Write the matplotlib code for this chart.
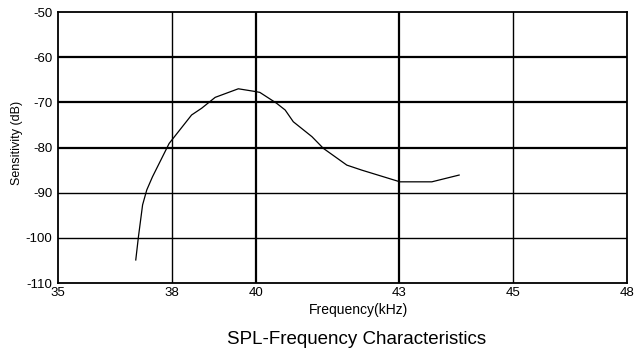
import numpy as np
import matplotlib
matplotlib.use("Agg")
import matplotlib.pyplot as plt

# Data
freq_khz = [37.05, 37.12, 37.23, 37.34, 37.49, 37.93, 38.47, 38.71, 39.03, 39.58,
            39.98, 40.08, 40.43, 40.61, 40.78, 41.17, 41.41, 41.90, 42.21, 43.01,
            43.57, 44.05]
sensitivity_db = [-104.9, -99.8, -92.7, -89.4, -86.5, -79.1, -72.8, -71.3, -68.9, -67.0,
                  -67.6, -67.8, -70.2, -71.7, -74.3, -77.6, -80.2, -83.9, -85.0, -87.6,
                  -87.6, -86.1]
x_ticks = [35, 38, 40, 43, 45, 48]
y_ticks = [-110, -100, -90, -80, -70, -60, -50]

# Non-uniform x axis of the original chart (tick positions on the drawn axis)
tick_pos = [0.0, 1.0, 1.74, 3.0, 4.0, 5.0]

def fwd(x):
    return np.interp(x, x_ticks, tick_pos)

def inv(u):
    return np.interp(u, tick_pos, x_ticks)

plt.rcParams['font.family'] = ['Liberation Sans', 'DejaVu Sans']

fig = plt.figure(figsize=(6.41, 3.63), dpi=100)
ax = fig.add_axes([58/641, 1 - 283/363, 569/641, 271/363])
ax.set_xscale('function', functions=(fwd, inv))
ax.set_xlim(35, 48)
ax.set_ylim(-110, -50)
ax.set_xticks(x_ticks)
ax.set_yticks(y_ticks)
ax.set_xticklabels([str(t) for t in x_ticks], fontsize=9.5)
ax.set_yticklabels([str(t) for t in y_ticks], va='center_baseline', fontsize=9.5)
ax.tick_params(axis='both', length=0)
ax.tick_params(axis='x', pad=3)
ax.tick_params(axis='y', pad=4)
ax.xaxis.set_minor_locator(matplotlib.ticker.NullLocator())
for lbl in ax.get_yticklabels():
    lbl.set_y(lbl.get_position()[1])

# grid lines (some drawn heavier, as in the reference)
for yv in y_ticks[1:-1]:
    lw = 1.6 if yv in (-80, -70, -60) else 1.0
    ax.axhline(yv, color='black', lw=lw, zorder=1)
for xv in x_ticks[1:-1]:
    lw = 1.6 if xv in (40, 43) else 1.0
    ax.axvline(xv, color='black', lw=lw, zorder=1)

for s in ax.spines.values():
    s.set_linewidth(1.3)
    s.set_color('black')

ax.plot(freq_khz, sensitivity_db, color='black', lw=0.9, zorder=3)

fig.text(358/641, 1 - 310/363, 'Frequency(kHz)', ha='center', va='center', fontsize=10)
fig.text(17/641, 1 - 143/363, 'Sensitivity (dB)', ha='center', va='center',
         rotation=90, fontsize=9)
fig.text(357/641, 1 - 340/363, 'SPL-Frequency Characteristics', ha='center', va='center',
         fontsize=13.5)

fig.savefig('out.png', dpi=100)
